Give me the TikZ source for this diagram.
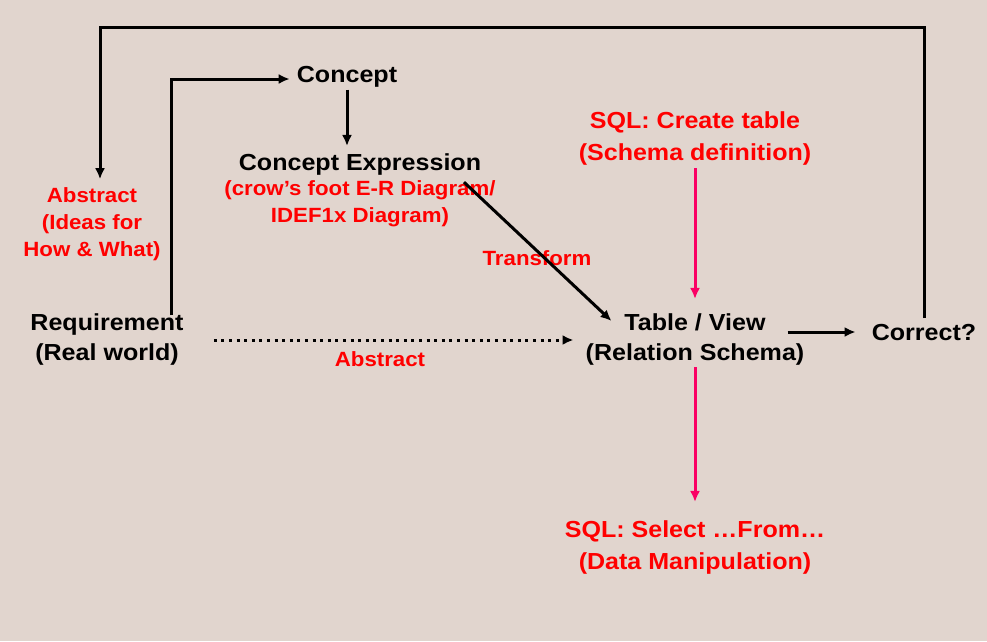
\documentclass[tikz,border=0pt]{standalone}
\usepackage{fontspec}
\setmainfont{Liberation Sans}[FakeStretch=1.08]
\usetikzlibrary{arrows.meta}

\definecolor{bgbeige}{RGB}{225,213,206}
\definecolor{sqlpink}{RGB}{250,0,100}

\tikzset{
  blk/.style={line width=3pt,-{Latex[length=11pt,width=10pt]}},
  pnk/.style={blk,draw=sqlpink,fill=sqlpink},
  dotarr/.style={blk,dash pattern=on 3pt off 4.6pt},
  big/.style={font=\bfseries\fontsize{23.2}{30}\selectfont,align=center,inner sep=0pt},
  redbig/.style={big,text=red,font=\bfseries\fontsize{23.2}{32}\selectfont},
  redsmall/.style={big,text=red,font=\bfseries\fontsize{20.6}{27}\selectfont}
}

\begin{document}
\begin{tikzpicture}[x=1pt,y=-1pt]
\fill[bgbeige] (0,0) rectangle (987,641);
\useasboundingbox (0,0) rectangle (987,641);

% nodes
\node[big] (concept) at (347,77) {Concept};
\node[big] (cexpr) at (360,164) {Concept Expression};
\node[redsmall] (crow) at (360,203.5) {(crow’s foot E-R Diagram/\\IDEF1x Diagram)};
\node[redsmall] (ideas) at (92,224) {Abstract\\(Ideas for\\How \& What)};
\node[big] (req) at (107,339) {Requirement\\(Real world)};
\node[big] (tview) at (695,339) {Table / View\\(Relation Schema)};
\node[big] (correct) at (924,333) {Correct?};
\node[redbig] (create) at (695,138) {SQL: Create table\\(Schema definition)};
\node[redsmall] (transform) at (537,258) {Transform};
\node[redsmall] (abstr) at (380,359) {Abstract};
\node[redbig] (select) at (695,547) {SQL: Select …From…\\(Data Manipulation)};

\coordinate (topleft) at (100,27);

% arrows
\draw[blk] ([yshift=6.5]correct.north) |- (topleft) -- ([yshift=8]topleft |- ideas.north);
\draw[blk] ([xshift=64,yshift=-2.5]req.north) |- ([shift={(-7,2)}]concept.west);
\draw[blk] ([yshift=-2]concept.south) -- ([yshift=7]concept.south |- cexpr.north);
\draw[blk] ([shift={(104,2)}]crow.north) -- ([shift={(26,8)}]tview.north west);
\draw[dotarr] ([shift={(30,1)}]req.east) -- ([shift={(-12,1)}]tview.west);
\draw[blk] ([shift={(-17,-7)}]tview.east) -- ([shift={(-16,-1)}]correct.west);
\draw[pnk] ([yshift=-3]create.south) -- ([yshift=14]tview.north);
\draw[pnk] ([yshift=-2]tview.south) -- ([yshift=18]select.north);
\end{tikzpicture}
\end{document}
